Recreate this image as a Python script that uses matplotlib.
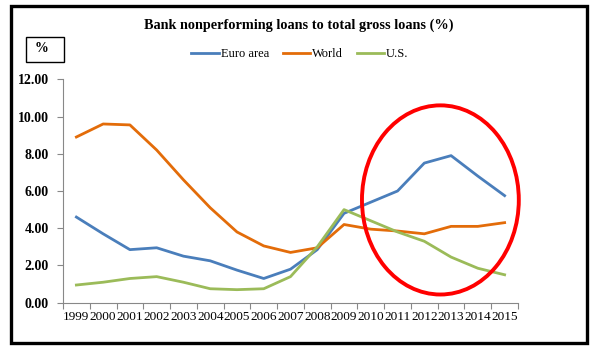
import matplotlib.pyplot as plt
from matplotlib.patches import Ellipse, Rectangle

years = [str(y) for y in range(1999, 2016)]
euro_area = [4.6, 3.7, 2.85, 2.95, 2.5, 2.25, 1.75, 1.3, 1.8, 2.85, 4.8, 5.4, 6.0, 7.5, 7.9, 6.8, 5.75]
world = [8.9, 9.6, 9.55, 8.2, 6.6, 5.1, 3.8, 3.05, 2.7, 2.95, 4.2, 3.95, 3.85, 3.7, 4.1, 4.1, 4.3]
us = [0.95, 1.1, 1.3, 1.4, 1.1, 0.75, 0.7, 0.75, 1.4, 3.0, 5.0, 4.4, 3.8, 3.3, 2.45, 1.85, 1.5]

plt.rcParams["font.family"] = ["Liberation Serif", "DejaVu Serif"]

W, H = 598, 354
fig = plt.figure(figsize=(W / 100, H / 100), dpi=100)
ax = fig.add_axes([63 / W, (H - 302.7) / H, 455 / W, (302.7 - 79.3) / H])

x = list(range(len(years)))
ax.plot(x, euro_area, color="#4A7EBB", linewidth=2.0, label="Euro area")
ax.plot(x, world, color="#E36C09", linewidth=2.0, label="World")
ax.plot(x, us, color="#9BBB59", linewidth=2.0, label="U.S.")

ax.set_xlim(-0.5, len(years) - 0.5)
ax.set_ylim(0, 12)
ax.set_yticks([0, 2, 4, 6, 8, 10, 12])
ax.set_yticklabels([f"{v:.2f}" for v in [0, 2, 4, 6, 8, 10, 12]], fontsize=10, fontweight="bold")
ax.set_xticks([i - 0.5 for i in range(len(years) + 1)])
ax.set_xticklabels([])
ax.set_xticks(x, minor=True)
ax.set_xticklabels(years, minor=True, fontsize=9.5)
ax.tick_params(axis="x", which="minor", length=0, pad=6)
ax.tick_params(axis="x", which="major", length=4, color="#888888")
ax.tick_params(axis="y", length=4, color="#888888", pad=6)
for s in ["top", "right"]:
    ax.spines[s].set_visible(False)
for s in ["left", "bottom"]:
    ax.spines[s].set_color("#888888")

ax.add_patch(Ellipse((13.6, 5.52), 5.86, 10.16, fill=False, edgecolor="#FF0000",
                     linewidth=2.8, clip_on=False, zorder=5))

fig.text(299 / W, 1 - 25 / H, "Bank nonperforming loans to total gross loans (%)",
         ha="center", va="center", fontsize=10.3, fontweight="bold")
fig.legend(loc="center", bbox_to_anchor=(300 / W, 1 - 54 / H), ncol=3, frameon=False,
           fontsize=9, handlelength=2.2, columnspacing=1.1, handletextpad=0.15)

fig.patches.append(Rectangle((26 / W, 1 - 62 / H), 38 / W, 25 / H, transform=fig.transFigure,
                             fill=False, edgecolor="black", linewidth=1.0))
fig.text(41 / W, 1 - 48 / H, "%", ha="center", va="center", fontsize=10, fontweight="bold")
fig.patches.append(Rectangle((10.5 / W, 1 - 343 / H), 576 / W, 337 / H, transform=fig.transFigure,
                             fill=False, edgecolor="black", linewidth=2.4))

fig.savefig("out.png", dpi=100)
plt.close(fig)
